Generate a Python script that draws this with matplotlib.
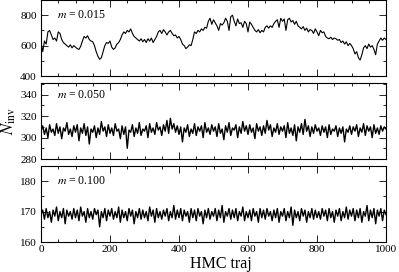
import numpy as np
import matplotlib
matplotlib.use("Agg")
import matplotlib.pyplot as plt
from matplotlib.ticker import MultipleLocator

plt.rcParams['font.family'] = ['Liberation Serif', 'DejaVu Serif']
plt.rcParams['mathtext.fontset'] = 'stix'

# numero de invariantes ao longo das trajetorias HMC (passo 5)
traj = np.arange(0, 1001, 5)

n_015 = [620, 560, 630, 610, 690, 700, 670, 640, 650, 630,
         690, 680, 640, 620, 610, 600, 590, 605, 585, 600,
         590, 580, 575, 595, 630, 660, 650, 665, 640, 630,
         625, 600, 560, 530, 510, 520, 560, 600, 620, 615,
         630, 590, 575, 585, 610, 620, 640, 670, 690, 680,
         700, 690, 710, 680, 660, 650, 640, 630, 645, 625,
         640, 620, 645, 630, 650, 620, 640, 660, 690, 700,
         680, 705, 690, 670, 690, 700, 680, 665, 670, 650,
         660, 640, 610, 600, 580, 590, 605, 600, 640, 690,
         680, 700, 690, 710, 700, 720, 715, 760, 780, 740,
         770, 750, 730, 700, 745, 735, 750, 780, 760, 700,
         790, 800, 760, 730, 775, 745, 750, 720, 760, 745,
         690, 755, 740, 720, 700, 690, 705, 685, 700, 690,
         720, 730, 715, 730, 720, 745, 760, 770, 720, 780,
         760, 775, 700, 770, 780, 755, 765, 740, 760, 730,
         720, 710, 725, 700, 715, 690, 705, 700, 680, 710,
         690, 665, 700, 685, 690, 660, 650, 645, 655, 640,
         650, 645, 635, 640, 620, 630, 610, 625, 600, 615,
         600, 580, 545, 560, 520, 505, 540, 585, 600, 580,
         610, 590, 600, 575, 540, 610, 630, 650, 635, 650,
         640]

n_050 = [306, 311, 303, 309, 300, 312, 305, 308, 302, 313, 304, 310, 299, 309, 306, 314, 303, 308, 301, 311,
         305, 312, 297, 309, 304, 313, 302, 310, 294, 308, 305, 311, 300, 309, 303, 315, 306, 310, 301, 312,
         304, 309, 302, 313, 306, 308, 299, 311, 303, 310, 290, 307, 305, 312, 301, 309, 304, 314, 302, 308,
         306, 311, 300, 313, 305, 309, 303, 314, 307, 310, 302, 312, 306, 316, 304, 318, 308, 313, 305, 311,
         303, 310, 296, 309, 305, 312, 301, 308, 304, 313, 302, 310, 306, 311, 300, 314, 305, 309, 303, 312,
         306, 310, 301, 313, 304, 308, 298, 311, 305, 314, 302, 309, 307, 312, 300, 310, 304, 315, 306, 311,
         303, 312, 305, 309, 299, 313, 306, 310, 302, 311, 304, 316, 307, 312, 301, 309, 305, 313, 303, 310,
         306, 311, 300, 314, 304, 309, 302, 312, 297, 310, 305, 313, 303, 317, 306, 311, 301, 310, 304, 312,
         306, 309, 302, 311, 305, 310, 300, 312, 303, 308, 306, 311, 301, 309, 304, 310, 296, 308, 305, 311,
         303, 310, 306, 312, 301, 309, 305, 313, 302, 311, 306, 310, 300, 312, 304, 309, 303, 311, 306, 310,
         308]

n_100 = [169, 170.5, 167.5, 171, 168, 170, 166.5, 170.5, 168.5, 171.5, 167, 170, 168, 171, 166, 170.5, 168.5, 170, 167.5, 171,
         168, 170.5, 167, 171.5, 168.5, 170, 166.5, 171, 168, 170, 167.5, 171, 169, 170.5, 165, 170, 168, 171, 167, 170.5,
         168.5, 171, 167.5, 170, 168, 171.5, 166.5, 170.5, 168, 170, 167, 171, 168.5, 170.5, 166, 170, 168, 171, 167.5, 170.5,
         168, 170, 167, 171.5, 168.5, 170.5, 166.5, 171, 168, 170, 167.5, 170.5, 168.5, 171, 167, 170, 168, 172, 167.5, 170.5,
         168, 171, 167, 170.5, 168.5, 170, 166.5, 171, 168, 170.5, 167, 171, 168.5, 170, 166, 170.5, 168, 171, 167.5, 170,
         168.5, 171, 167, 170.5, 168, 172, 166.5, 170, 168.5, 171, 167.5, 170.5, 168, 171, 167, 170, 168.5, 171.5, 167, 170,
         168, 170.5, 167, 171, 168.5, 170, 166.5, 171, 168, 170.5, 167.5, 171, 168.5, 170, 167, 170.5, 168, 171, 166.5, 170,
         168.5, 171, 167, 170, 168, 171.5, 165.5, 170.5, 168, 170, 167, 171, 168.5, 170.5, 166.5, 170, 168, 171, 167.5, 170.5,
         168, 170, 167.5, 171, 168.5, 170.5, 167, 171, 168, 170, 166.5, 170.5, 168.5, 171, 167, 170, 168, 171.5, 167.5, 170.5,
         168.5, 171, 167, 170.5, 168, 171, 166.5, 170, 168.5, 172, 167, 170.5, 168, 171, 166, 170.5, 168.5, 171, 167, 170.5,
         169]

rotulos = ["0.015", "0.050", "0.100"]
series = [n_015, n_050, n_100]
limites = [(400, 900), (280, 351), (160, 185)]
maiores = [200, 20, 10]
menores = [100, 10, 5]
y_rotulo = [800, 340, 180]
espessura = [0.8, 1.0, 1.0]

fig = plt.figure(figsize=(3.99, 2.72), dpi=100)
L, W = 41 / 399, 345 / 399
caixas = [(0, 76), (83, 159), (166, 242)]

for i in range(3):
    top, bot = caixas[i]
    ax = fig.add_axes([L, 1 - bot / 272, W, (bot - top) / 272])
    ax.plot(traj, series[i], color='black', lw=espessura[i])
    ax.set_xlim(0, 1000)
    ax.set_ylim(*limites[i])
    ax.xaxis.set_major_locator(MultipleLocator(200))
    ax.xaxis.set_minor_locator(MultipleLocator(50))
    ax.yaxis.set_major_locator(MultipleLocator(maiores[i]))
    ax.yaxis.set_minor_locator(MultipleLocator(menores[i]))
    ax.tick_params(which='both', direction='in', top=True, right=True, labelsize=8, pad=3)
    ax.tick_params(axis='x', pad=2)
    ax.tick_params(which='major', length=5, width=0.6)
    ax.tick_params(which='minor', length=2.5, width=0.6)
    for s in ax.spines.values():
        s.set_linewidth(0.8)
    ax.text(45, y_rotulo[i], r"$m$ = " + rotulos[i], fontsize=8.5, va='center', ha='left')
    if i < 2:
        ax.set_xticklabels([])

fig.text(221 / 399, 4 / 272, "HMC traj", fontsize=11.5, ha='center', va='baseline')
fig.text(0.022, 1 - 121 / 272, r"$N_{\rm inv}$", rotation=90, fontsize=12, va='center', ha='center')

fig.savefig("out.png", dpi=100)
